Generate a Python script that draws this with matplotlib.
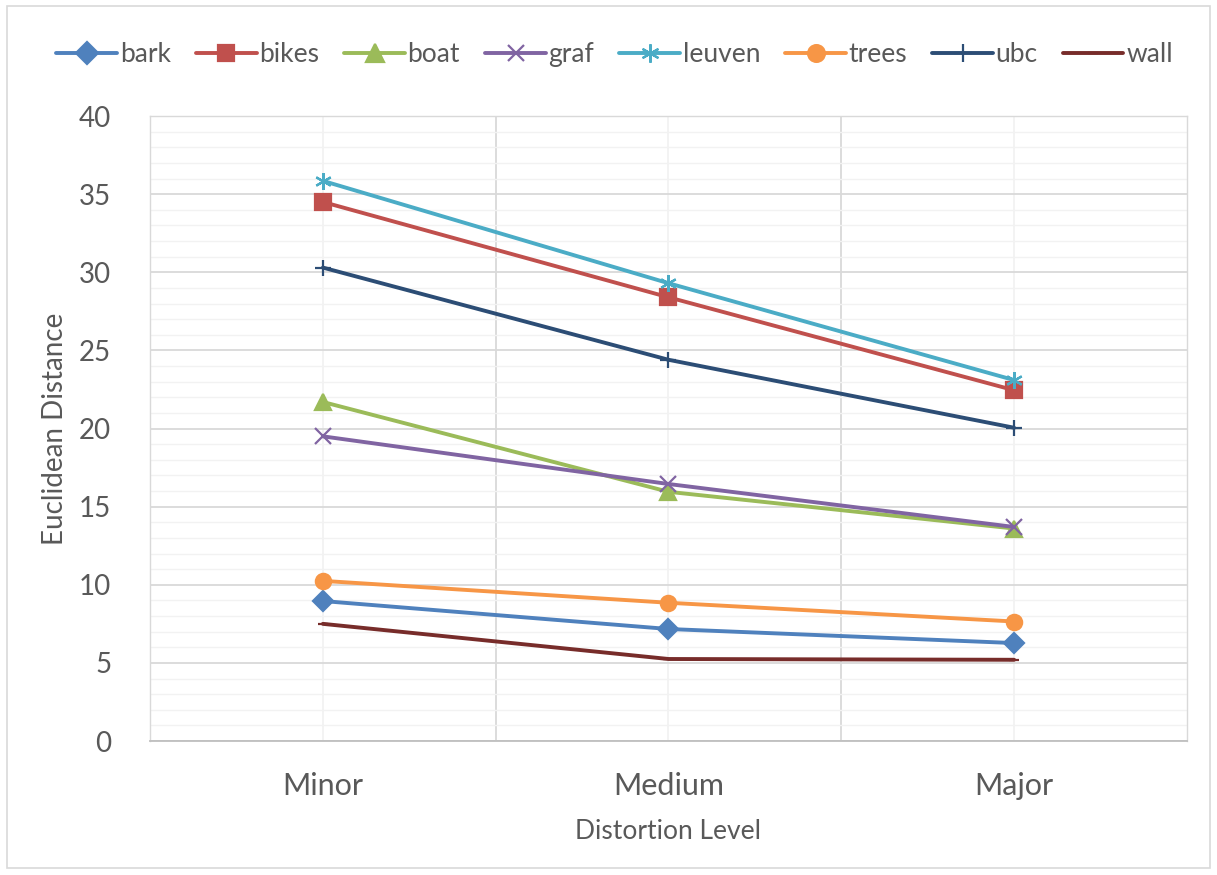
import numpy as np
import matplotlib.pyplot as plt
from matplotlib.patches import Rectangle

# data
levels = ['Minor', 'Medium', 'Major']
bark = [8.96, 7.17, 6.27]
bikes = [34.5, 28.4, 22.45]
boat = [21.7, 15.95, 13.6]
graf = [19.5, 16.45, 13.7]
leuven = [35.85, 29.3, 23.1]
trees = [10.25, 8.85, 7.65]
ubc = [30.3, 24.4, 20.05]
wall = [7.5, 5.25, 5.2]

series = [
    ('bark', bark, '#4F81BD', 'D', 10),
    ('bikes', bikes, '#C0504D', 's', 11),
    ('boat', boat, '#9BBB59', '^', 12),
    ('graf', graf, '#8064A2', 'x', 11),
    ('leuven', leuven, '#4BACC6', (6, 2, 0), 12),
    ('trees', trees, '#F79646', 'o', 11),
    ('ubc', ubc, '#2C4D75', '+', 12),
    ('wall', wall, '#772C2A', '_', 7),
]

plt.rcParams['font.family'] = ['Lato', 'DejaVu Sans']
text_col = '#595959'

fig = plt.figure(figsize=(12.17, 8.75), dpi=100)
ax = fig.add_axes([0.1233, 0.1531, 0.852, 0.7143])

x = np.arange(len(levels))
for name, vals, col, mk, ms in series:
    ax.plot(x, vals, color=col, lw=2.8, marker=mk, markersize=ms,
            markeredgewidth=1.6, markeredgecolor=col, markerfacecolor=col,
            label=name, solid_capstyle='round')

ax.set_xlim(-0.5, 2.5)
ax.set_ylim(0, 40)
ax.set_yticks(np.arange(0, 41, 5))
ax.set_yticks(np.arange(0, 41, 1), minor=True)
ax.set_xticks(x)
ax.set_xticklabels(levels)
ax.set_xticks([0.5, 1.5], minor=True)

ax.grid(axis='y', which='major', color='#D9D9D9', lw=1.3)
ax.grid(axis='y', which='minor', color='#F2F2F2', lw=1.0)
ax.grid(axis='x', which='minor', color='#D9D9D9', lw=1.3)
ax.grid(axis='x', which='major', color='#F2F2F2', lw=1.3)
ax.set_axisbelow(True)

for side in ['top', 'left', 'right']:
    ax.spines[side].set_color('#D9D9D9')
    ax.spines[side].set_linewidth(1.0)
ax.spines['bottom'].set_color('#BFBFBF')
ax.spines['bottom'].set_linewidth(1.3)

ax.tick_params(which='both', length=0)
ax.tick_params(axis='y', labelsize=20, labelcolor=text_col, pad=28)
ax.tick_params(axis='x', labelsize=22, labelcolor=text_col, pad=22)

ax.set_xlabel('Distortion Level', fontsize=19, color=text_col, labelpad=14)
ax.set_ylabel('Euclidean Distance', fontsize=20, color=text_col, labelpad=8)

fig.legend(loc='center', bbox_to_anchor=(0.505, 0.938), ncol=8, frameon=False,
           fontsize=19, labelcolor=text_col, handlelength=2.3,
           handletextpad=0.1, columnspacing=0.95, markerscale=1.1)

fig.patches.append(Rectangle((0.006, 0.008), 0.988, 0.985, transform=fig.transFigure,
                             fill=False, edgecolor='#D9D9D9', lw=1.2))

fig.savefig('out.png', dpi=100)
